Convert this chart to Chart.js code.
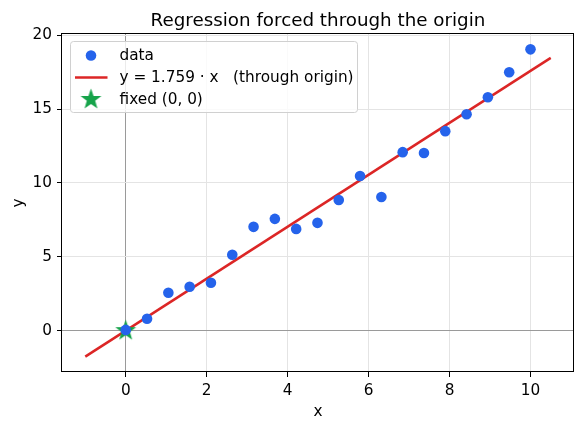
<!DOCTYPE html>
<html>
<head>
<meta charset="utf-8">
<script src="https://cdn.jsdelivr.net/npm/chart.js@4.4.1/dist/chart.umd.min.js"></script>
<style>
html, body { margin: 0; padding: 0; background: #fff; }
</style>
</head>
<body>
<canvas id="regChart" width="584" height="430"></canvas>
<script>
// values
const xData = [0, 0.526, 1.053, 1.579, 2.105, 2.632, 3.158, 3.684, 4.211, 4.737,
               5.263, 5.789, 6.316, 6.842, 7.368, 7.895, 8.421, 8.947, 9.474, 10];
const yData = [0.05, 0.81, 2.57, 2.97, 3.24, 5.14, 7.03, 7.57, 6.89, 7.3,
               8.85, 10.47, 9.05, 12.09, 12.03, 13.51, 14.66, 15.81, 17.5, 19.05];
const fitX = [-1, 10.5];
const fitY = [-1.759, 18.47];
const originPoint = [0, 0];
const xTicks = [0, 2, 4, 6, 8, 10];
const yTicks = [0, 5, 10, 15, 20];
const legendLabels = ["data", "y = 1.759 \u00b7 x   (through origin)", "fixed (0, 0)"];
const chartTitle = "Regression forced through the origin";

const blue = "#2563eb";
const red = "#dc2626";
const green = "#16a34a";

Chart.defaults.font.family = "'DejaVu Sans', sans-serif";
Chart.defaults.color = "#000";

// filled five point star for the origin marker
function makeStar(size, color) {
    const c = document.createElement("canvas");
    c.width = size;
    c.height = size;
    const g = c.getContext("2d");
    const cx = size / 2, cy = size / 2;
    const outer = size / 2 - 0.5, inner = outer * 0.4;
    g.beginPath();
    for (let i = 0; i < 10; i++) {
        const r = i % 2 === 0 ? outer : inner;
        const a = -Math.PI / 2 + i * Math.PI / 5;
        const px = cx + r * Math.cos(a), py = cy + r * Math.sin(a);
        if (i === 0) g.moveTo(px, py); else g.lineTo(px, py);
    }
    g.closePath();
    g.fillStyle = color;
    g.fill();
    return c;
}
const starImg = makeStar(23, green);

// title centred over the plot area, plus the four spines
const frame = {
    id: "frame",
    afterDraw(chart) {
        const { ctx, chartArea: a } = chart;
        const l = Math.round(a.left), t = Math.round(a.top);
        const r = Math.round(a.right), b = Math.round(a.bottom);
        ctx.save();
        ctx.fillStyle = "#000";
        ctx.fillRect(l - 1, t - 1, r - l + 1, 1);
        ctx.fillRect(l - 1, b - 1, r - l + 1, 1);
        ctx.fillRect(l - 1, t - 1, 1, b - t + 1);
        ctx.fillRect(r - 1, t - 1, 1, b - t + 1);

        ctx.font = "18.3px 'DejaVu Sans'";
        ctx.textAlign = "center";
        ctx.textBaseline = "alphabetic";
        ctx.fillText(chartTitle, (a.left + a.right) / 2, t - 8.5);
        ctx.restore();
    }
};

const legendBox = {
    id: "legendBox",
    afterDraw(chart) {
        const { ctx, chartArea: a } = chart;
        const left = a.left + 8.5, top = a.top + 7.5;
        const w = 287, h = 71;
        ctx.save();
        ctx.beginPath();
        ctx.roundRect(left, top, w, h, 3);
        ctx.fillStyle = "rgba(255,255,255,0.8)";
        ctx.fill();
        ctx.strokeStyle = "#d0d0d0";
        ctx.lineWidth = 1;
        ctx.stroke();

        const mx = left + 20.5, tx = left + 49;
        const rows = [top + 14, top + 36, top + 58];
        // data dot
        ctx.beginPath();
        ctx.arc(mx, rows[0], 5.3, 0, Math.PI * 2);
        ctx.fillStyle = blue;
        ctx.fill();
        // fit line
        ctx.beginPath();
        ctx.moveTo(left + 4.5, rows[1]);
        ctx.lineTo(left + 37, rows[1]);
        ctx.strokeStyle = red;
        ctx.lineWidth = 2.5;
        ctx.stroke();
        // star
        ctx.drawImage(starImg, mx - starImg.width / 2, rows[2] - starImg.height / 2);

        ctx.fillStyle = "#000";
        ctx.font = "15.3px 'DejaVu Sans'";
        ctx.textBaseline = "middle";
        legendLabels.forEach((t, i) => ctx.fillText(t, tx, rows[i] + 1));
        ctx.restore();
    }
};

const gridColor = c => (c.tick && c.tick.value === 0) ? "#9a9a9a" : "#e4e4e4";

new Chart(document.getElementById("regChart"), {
    type: "scatter",
    data: {
        datasets: [
            {
                label: legendLabels[0],
                data: xData.map((x, i) => ({ x: x, y: yData[i] })),
                backgroundColor: blue,
                borderColor: blue,
                pointRadius: 5.3,
                pointBorderWidth: 0,
                order: 0,
            },
            {
                label: legendLabels[2],
                data: [{ x: originPoint[0], y: originPoint[1] }],
                pointStyle: starImg,
                order: 1,
            },
            {
                label: legendLabels[1],
                type: "line",
                data: fitX.map((x, i) => ({ x: x, y: fitY[i] })),
                borderColor: red,
                borderWidth: 2.5,
                pointRadius: 0,
                fill: false,
                order: 2,
            },
        ],
    },
    options: {
        responsive: false,
        animation: false,
        events: [],
        layout: { padding: { top: 34, right: 10, bottom: 0, left: 0 } },
        plugins: {
            legend: { display: false },
            tooltip: { enabled: false },
            title: { display: false },
        },
        scales: {
            x: {
                type: "linear",
                min: -1.575,
                max: 11.075,
                afterBuildTicks: s => { s.ticks = xTicks.map(v => ({ value: v })); },
                afterFit: s => { s.height = 58; },
                ticks: { font: { size: 15.3 }, padding: 5, maxRotation: 0 },
                grid: { color: gridColor, tickColor: "#000", tickLength: 5, lineWidth: 1 },
                border: { display: false },
                title: { display: true, text: "x", font: { size: 15.3 }, padding: { top: 0, bottom: 9 } },
            },
            y: {
                type: "linear",
                min: -2.8,
                max: 20.09,
                afterBuildTicks: s => { s.ticks = yTicks.map(v => ({ value: v })); },
                afterFit: s => { s.width = 62; },
                ticks: { font: { size: 15.3 }, padding: 5 },
                grid: { color: gridColor, tickColor: "#000", tickLength: 5, lineWidth: 1 },
                border: { display: false },
                title: { display: true, text: "y", font: { size: 15.3 }, padding: { top: 10, bottom: 0 } },
            },
        },
    },
    plugins: [frame, legendBox],
});
</script>
</body>
</html>
